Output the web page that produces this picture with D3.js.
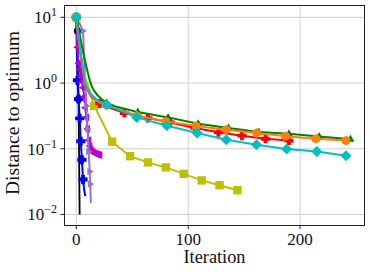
<!DOCTYPE html>
<html><head><meta charset="utf-8">
<script src="https://cdn.jsdelivr.net/npm/d3@7"></script>
<style>body{margin:0;background:#fff}svg{display:block}</style>
</head><body>
<svg id="c" width="371" height="272"></svg>
<script>
// ---- data ----
const xTicks = [0, 100, 200];
const yTicks = [10, 1, 0.1, 0.01];
const yTickExp = ["1", "0", "\u22121", "\u22122"];
const xLabel = "Iteration";
const yLabel = "Distance to optimum";

const blackIter = [0, 1, 2, 3];
const blackVal  = [10, 6.2, 0.57, 0.01];

const blueIter = [0, 1, 2, 3, 4, 5, 6, 7, 8];
const blueVal  = [10, 1.1, 0.57, 0.29, 0.13, 0.068, 0.034, 0.024, 0.019];

const magentaIter = [0, 1, 2, 3, 4, 5, 6, 7, 8, 9, 10, 11, 12, 13, 14, 15, 16, 17, 18, 19, 20, 21];
const magentaVal  = [10, 3.5, 2.0, 1.6, 1.3, 1.05, 0.85, 0.62, 0.42, 0.3, 0.2, 0.135, 0.11, 0.098, 0.092, 0.088, 0.086, 0.084, 0.083, 0.082, 0.081, 0.08];

const purpleIter = [0, 3, 6, 7, 8, 9, 10, 11, 12, 12.5, 13];
const purpleVal  = [10, 8, 6.2, 2.5, 1.0, 0.45, 0.2, 0.09, 0.045, 0.029, 0.015];

const yellowIter = [0, 2, 4, 6, 8, 10, 12, 14, 16, 32, 48, 64, 80, 96, 112, 128, 144];
const yellowVal  = [10, 5, 2.8, 1.7, 1.2, 0.95, 0.76, 0.58, 0.45, 0.128, 0.077, 0.062, 0.052, 0.0415, 0.033, 0.0279, 0.0234];

const greenIter = [0, 1, 2, 3, 4, 5, 6, 7, 8, 10, 12, 14, 16, 19, 23, 27, 35, 45, 55, 82, 109, 136, 163, 190, 217, 245];
const greenVal  = [10, 8.5, 6.8, 5.5, 4.4, 3.6, 3.0, 2.5, 2.1, 1.5, 1.1, 0.88, 0.76, 0.65, 0.56, 0.5, 0.44, 0.4, 0.361, 0.30, 0.240, 0.207, 0.180, 0.169, 0.154, 0.140];

const redIter = [0, 2, 4, 6, 8, 10, 13, 17, 21, 30, 43, 64, 84, 106, 127, 148, 169, 190];
const redVal  = [10, 4.5, 2.5, 1.5, 0.95, 0.78, 0.63, 0.55, 0.49, 0.42, 0.349, 0.293, 0.251, 0.207, 0.178, 0.158, 0.142, 0.133];

const orangeIter = [0, 2, 4, 6, 8, 10, 13, 17, 21, 27, 54, 80, 107, 134, 161, 187, 214, 241];
const orangeVal  = [10, 4.7, 2.6, 1.55, 1.0, 0.8, 0.65, 0.56, 0.5, 0.46, 0.32, 0.26, 0.222, 0.195, 0.174, 0.155, 0.142, 0.133];

const cyanIter = [0, 2, 4, 6, 8, 10, 13, 17, 21, 27, 54, 81, 108, 134, 161, 188, 215, 241];
const cyanVal  = [10, 5, 2.8, 1.6, 1.0, 0.82, 0.68, 0.58, 0.52, 0.467, 0.30, 0.224, 0.174, 0.137, 0.115, 0.099, 0.091, 0.0785];

// ---- layout / style ----
const L = 64, R = 365, T = 5, B = 225;
const svg = d3.select("#c");
const x = d3.scaleLinear().domain([-11, 258]).range([L, R]);
const y = d3.scaleLog().domain([Math.pow(10, -2.16), Math.pow(10, 1.187)]).range([B, T]);

const font = "'Liberation Serif','Times New Roman',serif";

// grid
const g = svg.append("g");
g.selectAll(".gx").data(xTicks).join("line")
  .attr("x1", d => x(d)).attr("x2", d => x(d)).attr("y1", T).attr("y2", B)
  .attr("stroke", "#cfcfcf").attr("stroke-width", 1);
g.selectAll(".gy").data(yTicks).join("line")
  .attr("y1", d => y(d)).attr("y2", d => y(d)).attr("x1", L).attr("x2", R)
  .attr("stroke", "#cfcfcf").attr("stroke-width", 1);

// marker shapes
function markerPath(type, r) {
  switch (type) {
    case "circle": return d3.symbol(d3.symbolCircle, Math.PI * r * r)();
    case "square": return `M${-r},${-r}H${r}V${r}H${-r}Z`;
    case "diamond": return `M0,${-r}L${r},0L0,${r}L${-r},0Z`;
    case "tri-up": return `M0,${-r}L${r * 0.9},${r * 0.6}L${-r * 0.9},${r * 0.6}Z`;
    case "tri-right": return `M${r},0L${-r * 0.6},${r * 0.9}L${-r * 0.6},${-r * 0.9}Z`;
    case "tri-left": return `M${-r},0L${r * 0.6},${r * 0.9}L${r * 0.6},${-r * 0.9}Z`;
    case "plus": { const a = r * 0.42; return `M${-a},${-r}H${a}V${-a}H${r}V${a}H${a}V${r}H${-a}V${a}H${-r}V${-a}H${-a}Z`; }
    case "hex": { let p = ""; for (let i = 0; i < 6; i++) { const t = Math.PI / 3 * i - Math.PI / 2; p += (i ? "L" : "M") + (r * Math.cos(t)).toFixed(2) + "," + (r * Math.sin(t)).toFixed(2); } return p + "Z"; }
  }
}

const series = [
  { it: blackIter, v: blackVal, color: "#000000", w: 1.8, m: "circle", r: 3.6, marks: [0, 1, 2] },
  { it: blueIter, v: blueVal, color: "#0000ff", w: 2, m: "plus", r: 4.6, marks: [0, 1, 2, 3, 4, 5, 6] },
  { it: magentaIter, v: magentaVal, color: "#bf00bf", w: 2, m: "tri-left", r: 4.3, marks: magentaIter.map((d, i) => i) },
  { it: purpleIter, v: purpleVal, color: "#9370db", w: 2, m: "tri-right", r: 4, marks: [0, 2, 4, 5, 6, 7, 8, 9] },
  { it: yellowIter, v: yellowVal, color: "#bfbf00", w: 2, m: "square", r: 4.2, marks: [0, 8, 9, 10, 11, 12, 13, 14, 15, 16] },
  { it: redIter, v: redVal, color: "#ff0000", w: 2, m: "plus", r: 4.5, marks: [0, 8, 10, 11, 12, 13, 14, 15, 16, 17] },
  { it: greenIter, v: greenVal, color: "#008000", w: 2, m: "tri-up", r: 4.5, marks: [0, 15, 18, 19, 20, 21, 22, 23, 24, 25] },
  { it: orangeIter, v: orangeVal, color: "#ff7f0e", w: 2, m: "hex", r: 4.8, marks: [0, 9, 10, 11, 12, 13, 14, 15, 16, 17] },
  { it: cyanIter, v: cyanVal, color: "#00bfbf", w: 2, m: "diamond", r: 5.5, marks: [0, 9, 10, 11, 12, 13, 14, 15, 16, 17] }
];

const line = d3.line().x(d => x(d[0])).y(d => y(d[1]));
const plot = svg.append("g");
series.forEach(s => {
  const pts = s.it.map((d, i) => [d, s.v[i]]);
  plot.append("path").datum(pts).attr("d", line)
    .attr("fill", "none").attr("stroke", s.color).attr("stroke-width", s.w)
    .attr("stroke-linejoin", "round").attr("stroke-linecap", "butt");
  plot.selectAll(null).data(s.marks.map(i => pts[i])).join("path")
    .attr("transform", d => `translate(${x(d[0])},${y(d[1])})`)
    .attr("d", markerPath(s.m, s.r)).attr("fill", s.color);
});

// frame
svg.append("rect").attr("x", L + 0.5).attr("y", T + 0.5).attr("width", R - L - 1).attr("height", B - T)
  .attr("fill", "none").attr("stroke", "#222").attr("stroke-width", 1);

// ticks
svg.selectAll(".tx").data(xTicks).join("line")
  .attr("x1", d => x(d)).attr("x2", d => x(d)).attr("y1", B + 0.5).attr("y2", B + 4)
  .attr("stroke", "#222").attr("stroke-width", 1);
svg.selectAll(".ty").data(yTicks).join("line")
  .attr("y1", d => y(d)).attr("y2", d => y(d)).attr("x1", L).attr("x2", L - 3.5)
  .attr("stroke", "#222").attr("stroke-width", 1);

svg.selectAll(".lx").data(xTicks).join("text")
  .attr("x", d => x(d)).attr("y", 245).attr("text-anchor", "middle")
  .attr("font-family", font).attr("font-size", 17).attr("fill", "#111").text(d => d);

const yl = svg.selectAll(".ly").data(yTicks).join("text")
  .attr("x", 57).attr("y", d => y(d) + 6).attr("text-anchor", "end")
  .attr("font-family", font).attr("font-size", 17).attr("fill", "#111");
yl.append("tspan").text("10");
yl.append("tspan").attr("dy", -7).attr("font-size", 12).text((d, i) => yTickExp[i]);

svg.append("text").attr("x", (L + R) / 2).attr("y", 263).attr("text-anchor", "middle")
  .attr("font-family", font).attr("font-size", 18).attr("fill", "#111")
  .attr("textLength", 62).attr("lengthAdjust", "spacingAndGlyphs").text(xLabel);
svg.append("text").attr("transform", `translate(19,${(T + B) / 2 - 2}) rotate(-90)`)
  .attr("text-anchor", "middle").attr("font-family", font).attr("font-size", 18).attr("fill", "#111")
  .attr("textLength", 164).attr("lengthAdjust", "spacingAndGlyphs").text(yLabel);
</script>
</body></html>
